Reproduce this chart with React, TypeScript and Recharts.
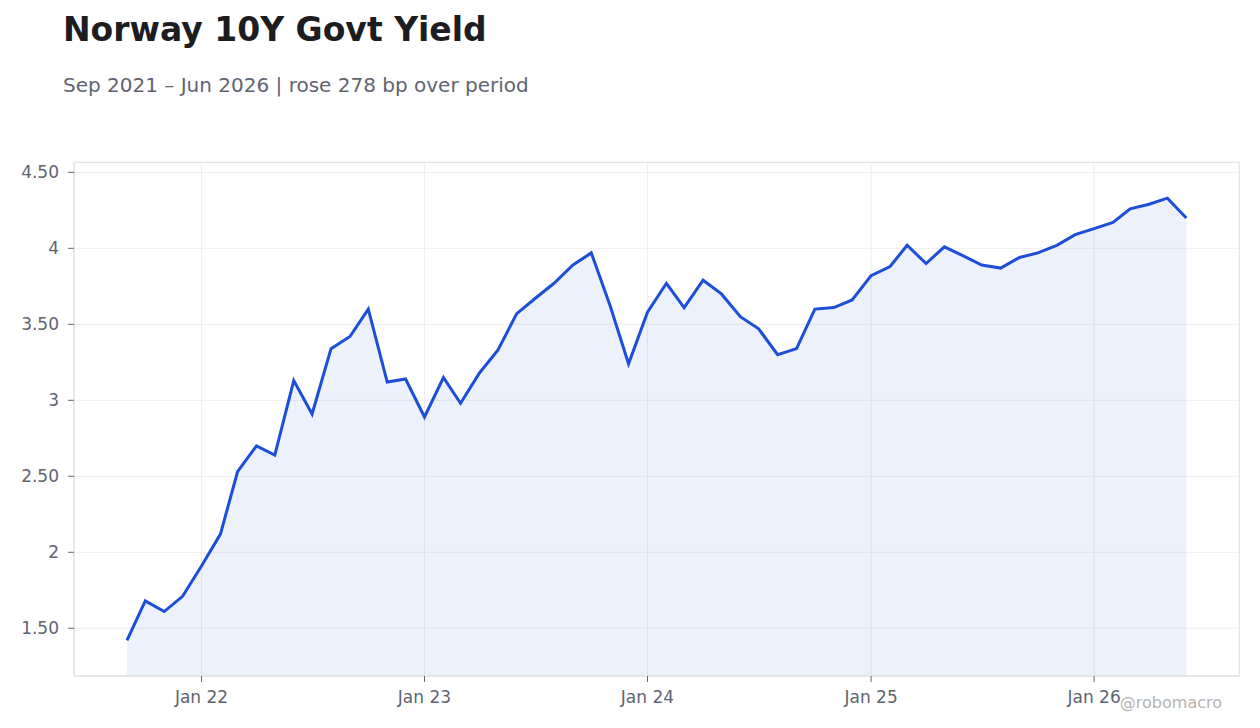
import React from "react";
import { AreaChart, Area, XAxis, YAxis, CartesianGrid, ReferenceArea } from "recharts";

const months: string[] = [
  "2021-09", "2021-10", "2021-11", "2021-12",
  "2022-01", "2022-02", "2022-03", "2022-04", "2022-05", "2022-06", "2022-07", "2022-08", "2022-09", "2022-10", "2022-11", "2022-12",
  "2023-01", "2023-02", "2023-03", "2023-04", "2023-05", "2023-06", "2023-07", "2023-08", "2023-09", "2023-10", "2023-11", "2023-12",
  "2024-01", "2024-02", "2024-03", "2024-04", "2024-05", "2024-06", "2024-07", "2024-08", "2024-09", "2024-10", "2024-11", "2024-12",
  "2025-01", "2025-02", "2025-03", "2025-04", "2025-05", "2025-06", "2025-07", "2025-08", "2025-09", "2025-10", "2025-11", "2025-12",
  "2026-01", "2026-02", "2026-03", "2026-04", "2026-05", "2026-06",
];

const yields: number[] = [
  1.42, 1.68, 1.61, 1.71,
  1.91, 2.12, 2.53, 2.70, 2.64, 3.13, 2.91, 3.34, 3.42, 3.60, 3.12, 3.14,
  2.89, 3.15, 2.98, 3.18, 3.33, 3.57, 3.67, 3.77, 3.89, 3.97, 3.62, 3.24,
  3.58, 3.77, 3.61, 3.79, 3.70, 3.55, 3.47, 3.30, 3.34, 3.60, 3.61, 3.66,
  3.82, 3.88, 4.02, 3.90, 4.01, 3.95, 3.89, 3.87, 3.94, 3.97, 4.02, 4.09,
  4.13, 4.17, 4.26, 4.29, 4.33, 4.20,
];

const xTickMonths: string[] = ["2022-01", "2023-01", "2024-01", "2025-01", "2026-01"];
const xTickLabels: string[] = ["Jan 22", "Jan 23", "Jan 24", "Jan 25", "Jan 26"];
const yTicks: number[] = [1.5, 2, 2.5, 3, 3.5, 4, 4.5];

const TITLE = "Norway 10Y Govt Yield";
const SUBTITLE = "Sep 2021 – Jun 2026 | rose 278 bp over period";
const WATERMARK = "@robomacro";

const toTs = (m: string) => {
  const [y, mo] = m.split("-").map(Number);
  return Date.UTC(y, mo - 1, 1);
};

const data = months.map((m, i) => ({ t: toTs(m), v: yields[i] }));
const xTicks = xTickMonths.map(toTs);
const t0 = data[0].t;
const t1 = data[data.length - 1].t;
const pad = (t1 - t0) * 0.05;
const xDomain: [number, number] = [t0 - pad, t1 + pad];
const yDomain: [number, number] = [1.186, 4.566];

const FONT = "'DejaVu Sans', sans-serif";
const LINE = "#1d4ed8";
const TICK_COLOR = "#5f6470";

const fmtX = (t: number) => {
  const idx = xTicks.indexOf(t);
  return idx >= 0 ? xTickLabels[idx] : "";
};
const fmtY = (v: number) => (Number.isInteger(v) ? String(v) : v.toFixed(2));

export default function App() {
  return (
    <div style={{ position: "relative", width: 1244, height: 712, fontFamily: FONT, background: "#fff" }}>
      <div
        style={{
          position: "absolute",
          left: 55,
          top: 5,
          fontSize: 33,
          lineHeight: 1,
          fontWeight: "bold",
          color: "#1c1c21",
          whiteSpace: "nowrap",
        }}
      >
        {TITLE}
      </div>
      <div
        style={{
          position: "absolute",
          left: 55,
          top: 67,
          fontSize: 20,
          lineHeight: 1,
          color: TICK_COLOR,
          whiteSpace: "nowrap",
        }}
      >
        {SUBTITLE}
      </div>
      <AreaChart
        width={1244}
        height={712}
        data={data}
        margin={{ top: 154.3, right: 12.7, left: 0, bottom: 0 }}
        style={{ fontFamily: FONT }}
      >
        <CartesianGrid stroke="#eeeeee" strokeWidth={1} />
        <XAxis
          dataKey="t"
          type="number"
          domain={xDomain}
          ticks={xTicks}
          tickFormatter={fmtX}
          height={44}
          tickSize={6}
          tickMargin={9}
          axisLine={{ stroke: "#e2e2e2" }}
          tickLine={{ stroke: "#666" }}
          tick={{ fill: TICK_COLOR, fontSize: 17, fontFamily: FONT }}
          allowDataOverflow
        />
        <YAxis
          type="number"
          domain={yDomain}
          ticks={yTicks}
          tickFormatter={fmtY}
          width={66}
          tickSize={6}
          tickMargin={9}
          axisLine={{ stroke: "#e2e2e2" }}
          tickLine={{ stroke: "#666" }}
          tick={{ fill: TICK_COLOR, fontSize: 17, fontFamily: FONT }}
          allowDataOverflow
        />
        <Area
          type="linear"
          dataKey="v"
          stroke={LINE}
          strokeWidth={3}
          fill={LINE}
          fillOpacity={0.08}
          isAnimationActive={false}
          dot={false}
          activeDot={false}
        />
        <ReferenceArea
          x1={xDomain[0]}
          x2={xDomain[1]}
          y1={yDomain[0]}
          y2={yDomain[1]}
          fill="none"
          stroke="#e2e2e2"
          strokeWidth={1}
          ifOverflow="visible"
        />
      </AreaChart>
      <div
        style={{
          position: "absolute",
          right: 30,
          top: 687,
          fontSize: 16,
          lineHeight: 1,
          color: "#b4b4b4",
          whiteSpace: "nowrap",
        }}
      >
        {WATERMARK}
      </div>
    </div>
  );
}
